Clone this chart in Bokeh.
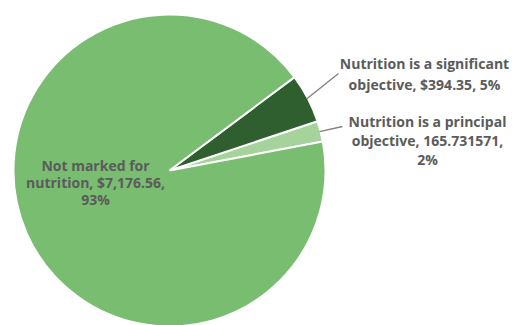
import numpy as np
from bokeh.plotting import figure
from bokeh.models import Range1d, ColumnDataSource
from bokeh.core.properties import value
from bokeh.embed import file_html
from bokeh.resources import INLINE

# Data (counter-clockwise order starting from the principal slice)
categories = ["Nutrition is a principal objective", "Nutrition is a significant objective", "Not marked for nutrition"]
amounts = [165.731571, 394.35, 7176.56]
percents = ["2%", "5%", "93%"]
colors = ["#a5d39b", "#2f5f2f", "#79bd71"]

W, H = 516, 325
cx, cy, r = 169, 155, 156
start_deg = 10.7

total = sum(amounts)
fr = np.array(amounts) / total
ang = np.cumsum(np.concatenate([[0], fr])) * 2 * np.pi + np.deg2rad(start_deg)
src = ColumnDataSource(dict(start=ang[:-1], end=ang[1:], color=colors))

p = figure(width=W, height=H, output_backend="svg", toolbar_location=None,
           x_range=Range1d(0, W), y_range=Range1d(0, H), min_border=0)
p.axis.visible = False
p.grid.visible = False
p.outline_line_color = None
p.background_fill_color = "white"

p.wedge(x=cx, y=cy, radius=r, start_angle="start", end_angle="end",
        fill_color="color", line_color="white", line_width=2, source=src)

# leader lines
mids = (ang[:-1] + ang[1:]) / 2
lead_r = [r - 1, r - 1]
lead_end = [(342, 199), (338, 252)]
for i in range(2):
    x0 = cx + lead_r[i] * np.cos(mids[i])
    y0 = cy + lead_r[i] * np.sin(mids[i])
    p.segment(x0=[x0], y0=[y0], x1=[lead_end[i][0]], y1=[lead_end[i][1]],
              line_color="#7f7f7f", line_width=1.3)

font = value("Open Sans")
label_lines = [
    (424, 262, "Nutrition is a significant"),
    (424, 241, "objective, $" + f"{amounts[1]:,.2f}" + ", " + percents[1]),
    (427, 204, "Nutrition is a principal"),
    (427, 185, "objective, " + f"{amounts[0]}" + ","),
    (427, 166, percents[0]),
    (95, 160, "Not marked for"),
    (95, 143, "nutrition, $" + f"{amounts[2]:,.2f}" + ","),
    (95, 126, percents[2]),
]
p.text(x=[l[0] for l in label_lines], y=[l[1] for l in label_lines],
       text=[l[2] for l in label_lines], text_font=font, text_font_style="bold",
       text_font_size="14px", text_color="#5b5b5b", text_align="center",
       text_baseline="middle")

open("out.html", "w").write(file_html(p, INLINE))
